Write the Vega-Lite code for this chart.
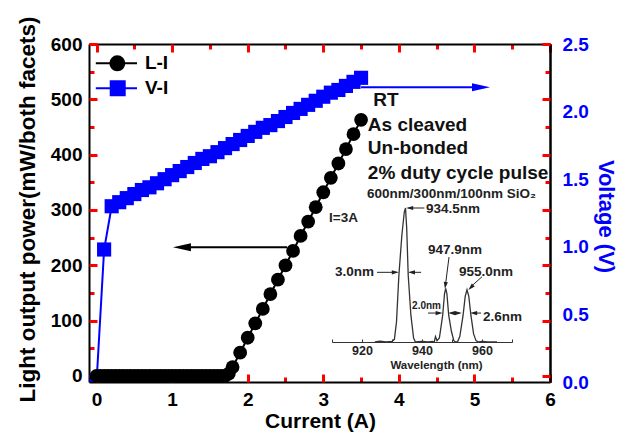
{
  "$schema": "https://vega.github.io/schema/vega-lite/v6.json",
  "width": 461,
  "height": 338,
  "autosize": {"type": "none"},
  "padding": {"left": 89, "top": 44, "right": 79, "bottom": 53},
  "background": "white",
  "config": {
    "view": {"stroke": null},
    "axis": {
      "grid": false,
      "domainColor": "black",
      "domainWidth": 2,
      "tickColor": "red",
      "tickWidth": 3,
      "labelFont": "Liberation Sans",
      "labelFontWeight": "bold",
      "labelFontSize": 19,
      "labelColor": "black",
      "labelFlush": false,
      "labelOverlap": false,
      "titleFont": "Liberation Sans",
      "titleFontWeight": "bold",
      "titleColor": "black"
    },
    "text": {"font": "Liberation Sans", "fontWeight": "bold"}
  },
  "datasets": {
    "li": [
      {"I": 0, "P": 0}, {"I": 0.05, "P": 0}, {"I": 0.1, "P": 0}, {"I": 0.15, "P": 0}, {"I": 0.2, "P": 0},
      {"I": 0.25, "P": 0}, {"I": 0.3, "P": 0}, {"I": 0.35, "P": 0}, {"I": 0.4, "P": 0}, {"I": 0.45, "P": 0},
      {"I": 0.5, "P": 0}, {"I": 0.55, "P": 0}, {"I": 0.6, "P": 0}, {"I": 0.65, "P": 0}, {"I": 0.7, "P": 0},
      {"I": 0.75, "P": 0}, {"I": 0.8, "P": 0}, {"I": 0.85, "P": 0}, {"I": 0.9, "P": 0}, {"I": 0.95, "P": 0},
      {"I": 1.0, "P": 0}, {"I": 1.05, "P": 0}, {"I": 1.1, "P": 0}, {"I": 1.15, "P": 0}, {"I": 1.2, "P": 0},
      {"I": 1.25, "P": 0}, {"I": 1.3, "P": 0}, {"I": 1.35, "P": 0}, {"I": 1.4, "P": 0}, {"I": 1.45, "P": 0},
      {"I": 1.5, "P": 0}, {"I": 1.55, "P": 0}, {"I": 1.6, "P": 0}, {"I": 1.65, "P": 0}, {"I": 1.7, "P": 0},
      {"I": 1.75, "P": 4}, {"I": 1.8, "P": 16}, {"I": 1.9, "P": 42}, {"I": 2.0, "P": 69}, {"I": 2.1, "P": 95},
      {"I": 2.2, "P": 121}, {"I": 2.3, "P": 148}, {"I": 2.4, "P": 174}, {"I": 2.5, "P": 200}, {"I": 2.6, "P": 226},
      {"I": 2.7, "P": 253}, {"I": 2.8, "P": 279}, {"I": 2.9, "P": 305}, {"I": 3.0, "P": 332}, {"I": 3.1, "P": 358},
      {"I": 3.2, "P": 384}, {"I": 3.3, "P": 410}, {"I": 3.4, "P": 437}, {"I": 3.5, "P": 463}
    ],
    "vi": [
      {"I": 0, "V": 0}, {"I": 0.1, "V": 0.98}, {"I": 0.2, "V": 1.30}, {"I": 0.3, "V": 1.33}, {"I": 0.4, "V": 1.36},
      {"I": 0.5, "V": 1.39}, {"I": 0.6, "V": 1.42}, {"I": 0.7, "V": 1.44}, {"I": 0.8, "V": 1.47}, {"I": 0.9, "V": 1.50},
      {"I": 1.0, "V": 1.53}, {"I": 1.1, "V": 1.56}, {"I": 1.2, "V": 1.59}, {"I": 1.3, "V": 1.62}, {"I": 1.4, "V": 1.65},
      {"I": 1.5, "V": 1.67}, {"I": 1.6, "V": 1.70}, {"I": 1.7, "V": 1.73}, {"I": 1.8, "V": 1.76}, {"I": 1.9, "V": 1.79},
      {"I": 2.0, "V": 1.82}, {"I": 2.1, "V": 1.85}, {"I": 2.2, "V": 1.88}, {"I": 2.3, "V": 1.90}, {"I": 2.4, "V": 1.93},
      {"I": 2.5, "V": 1.96}, {"I": 2.6, "V": 1.99}, {"I": 2.7, "V": 2.02}, {"I": 2.8, "V": 2.05}, {"I": 2.9, "V": 2.08},
      {"I": 3.0, "V": 2.11}, {"I": 3.1, "V": 2.14}, {"I": 3.2, "V": 2.16}, {"I": 3.3, "V": 2.19}, {"I": 3.4, "V": 2.22},
      {"I": 3.5, "V": 2.25}
    ],
    "spec": [
      {"wl": 924.3, "int": 0.0}, {"wl": 926, "int": 0.006}, {"wl": 928, "int": 0.0}, {"wl": 930, "int": 0.005},
      {"wl": 930.8, "int": 0.02}, {"wl": 931.5, "int": 0.15}, {"wl": 932.3, "int": 0.5}, {"wl": 933.3, "int": 0.8},
      {"wl": 934.1, "int": 0.97}, {"wl": 934.5, "int": 1.0}, {"wl": 934.9, "int": 0.85}, {"wl": 935.4, "int": 0.5},
      {"wl": 936.3, "int": 0.2}, {"wl": 937.2, "int": 0.03}, {"wl": 937.8, "int": 0.0}, {"wl": 940, "int": 0.005},
      {"wl": 942, "int": 0.0}, {"wl": 943.5, "int": 0.005}, {"wl": 944.1, "int": 0.0}, {"wl": 944.5, "int": 0.04},
      {"wl": 945, "int": 0.01}, {"wl": 945.8, "int": 0.03}, {"wl": 946.9, "int": 0.2}, {"wl": 947.5, "int": 0.36},
      {"wl": 947.9, "int": 0.40}, {"wl": 948.3, "int": 0.36}, {"wl": 948.9, "int": 0.2}, {"wl": 949.8, "int": 0.08},
      {"wl": 950.6, "int": 0.01}, {"wl": 951.2, "int": 0.0}, {"wl": 951.8, "int": 0.0}, {"wl": 952.6, "int": 0.04},
      {"wl": 953.7, "int": 0.2}, {"wl": 954.4, "int": 0.34}, {"wl": 955.0, "int": 0.39}, {"wl": 955.6, "int": 0.34},
      {"wl": 956.3, "int": 0.2}, {"wl": 957.2, "int": 0.06}, {"wl": 958, "int": 0.01}, {"wl": 958.8, "int": 0.0},
      {"wl": 960, "int": 0.005}, {"wl": 962, "int": 0.0}, {"wl": 965, "int": 0.0}
    ]
  },
  "layer": [
    {
      "data": {"name": "spec"},
      "mark": {"type": "line", "color": "#333", "strokeWidth": 1.3},
      "encoding": {
        "x": {"field": "wl", "type": "quantitative",
          "scale": {"domain": [910, 970], "range": [243, 423], "nice": false, "zero": false},
          "axis": {"orient": "bottom", "offset": -40, "values": [910, 920, 930, 940, 950, 960, 970],
            "labelExpr": "datum.value % 20 === 0 ? datum.label : ''",
            "tickSize": -3, "tickWidth": 1, "tickColor": "#333", "domainColor": "#333", "domainWidth": 1.2,
            "labelFontSize": 12.5, "labelPadding": 5, "labelColor": "#222",
            "title": "Wavelength (nm)", "titleFontSize": 11.5, "titleColor": "#222",
            "titleX": 347, "titleY": 26, "titleBaseline": "alphabetic", "titleAlign": "center"}},
        "y": {"field": "int", "type": "quantitative",
          "scale": {"domain": [0, 1], "range": [298, 164], "nice": false, "zero": false},
          "axis": null}
      }
    },
    {
      "encoding": {
        "x": {"field": "wl", "type": "quantitative",
          "scale": {"domain": [910, 970], "range": [243, 423], "nice": false, "zero": false}, "axis": null},
        "y": {"field": "int", "type": "quantitative",
          "scale": {"domain": [0, 1], "range": [298, 164], "nice": false, "zero": false}, "axis": null}
      },
      "layer": [
        {"data": {"values": [
          {"wl": 921.7, "int": 1.105, "label": "600nm/300nm/100nm SiO₂"},
          {"wl": 941.3, "int": 0.995, "label": "934.5nm"},
          {"wl": 909, "int": 0.925, "label": "I=3A"},
          {"wl": 911, "int": 0.52, "label": "3.0nm"},
          {"wl": 942, "int": 0.687, "label": "947.9nm"},
          {"wl": 952.3, "int": 0.52, "label": "955.0nm"},
          {"wl": 960.3, "int": 0.19, "label": "2.6nm"}
        ]}, "mark": {"type": "text", "align": "left", "baseline": "middle", "fontSize": 13.5, "color": "#222"},
          "encoding": {"text": {"field": "label"}}},
        {"data": {"values": [{"wl": 936.7, "int": 0.27, "label": "2.0nm"}]},
          "mark": {"type": "text", "align": "left", "baseline": "middle", "fontSize": 10, "color": "#222"},
          "encoding": {"text": {"field": "label"}}},
        {"data": {"values": [
          {"wl": 935.5, "int": 1.0, "wl2": 940.8, "int2": 1.0},
          {"wl": 925, "int": 0.52, "wl2": 931.5, "int2": 0.52},
          {"wl": 936.5, "int": 0.52, "wl2": 939.7, "int2": 0.52},
          {"wl": 942, "int": 0.216, "wl2": 946, "int2": 0.216},
          {"wl": 949.5, "int": 0.216, "wl2": 951, "int2": 0.216},
          {"wl": 951.3, "int": 0.216, "wl2": 952.5, "int2": 0.216},
          {"wl": 957, "int": 0.216, "wl2": 959.7, "int2": 0.216},
          {"wl": 949, "int": 0.634, "wl2": 947.85, "int2": 0.43},
          {"wl": 960, "int": 0.487, "wl2": 956.4, "int2": 0.415}
        ]}, "mark": {"type": "rule", "color": "#222", "strokeWidth": 1},
          "encoding": {"x2": {"field": "wl2"}, "y2": {"field": "int2"}}},
        {"data": {"values": [{"wl": 935.9, "int": 1.0}, {"wl": 936.5, "int": 0.52}, {"wl": 949.9, "int": 0.216}, {"wl": 957.2, "int": 0.216}]},
          "mark": {"type": "point", "shape": "M-1,0L1,-0.6L1,0.6Z", "size": 49, "filled": true, "opacity": 1, "color": "#222"}},
        {"data": {"values": [{"wl": 931.1, "int": 0.52}, {"wl": 945.7, "int": 0.216}, {"wl": 952.1, "int": 0.216}]},
          "mark": {"type": "point", "shape": "M1,0L-1,-0.6L-1,0.6Z", "size": 49, "filled": true, "opacity": 1, "color": "#222"}},
        {"data": {"values": [{"wl": 947.8, "int": 0.422}]},
          "mark": {"type": "point", "shape": "M0,1L-0.6,-1L0.6,-1Z", "size": 49, "angle": 7, "filled": true, "opacity": 1, "color": "#222"}},
        {"data": {"values": [{"wl": 956.27, "int": 0.407}]},
          "mark": {"type": "point", "shape": "M0,1L-0.6,-1L0.6,-1Z", "size": 49, "angle": 45, "filled": true, "opacity": 1, "color": "#222"}}
      ]
    },
    {
      "data": {"name": "vi"},
      "mark": {"type": "line", "color": "#0000ff", "strokeWidth": 2},
      "encoding": {
        "x": {"field": "I", "type": "quantitative",
          "scale": {"domain": [-0.1, 6], "nice": false, "zero": false},
          "axis": {"orient": "top", "values": [0, 0.5, 1, 1.5, 2, 2.5, 3, 3.5, 4, 4.5, 5, 5.5, 6], "labels": false,
            "tickSize": -5, "title": null}},
        "y": {"field": "V", "type": "quantitative",
          "scale": {"domain": [0, 2.5], "nice": false, "zero": false},
          "axis": {"orient": "right", "values": [0, 0.5, 1, 1.5, 2, 2.5], "format": ".1f", "ticks": false,
            "labelColor": "#0000ff", "labelPadding": 12,
            "title": "Voltage (V)", "titleColor": "#0000ff", "titleFontSize": 22, "titleAngle": 90,
            "titleX": 48, "titleY": 172, "titleBaseline": "alphabetic", "titleAlign": "center"}}
      }
    },
    {
      "encoding": {
        "x": {"field": "I", "type": "quantitative",
          "scale": {"domain": [-0.1, 6], "nice": false, "zero": false}, "axis": null},
        "y": {"field": "V", "type": "quantitative",
          "scale": {"domain": [0, 2.5], "nice": false, "zero": false}, "axis": null}
      },
      "layer": [
        {"data": {"name": "vi"}, "mark": {"type": "point", "shape": "square", "size": 200, "filled": true, "opacity": 1, "color": "#0000ff", "clip": true}},
        {"data": {"values": [{"I": 3.5, "I2": 5.0, "V": 2.18}]}, "mark": {"type": "rule", "color": "#0000ff", "strokeWidth": 2},
          "encoding": {"x2": {"field": "I2"}}},
        {"data": {"values": [{"I": 5.087, "V": 2.18}]},
          "mark": {"type": "point", "shape": "M1,0L-1,-0.45L-1,0.45Z", "size": 324, "filled": true, "opacity": 1, "color": "#0000ff"}}
      ]
    },
    {
      "data": {"name": "li"},
      "mark": {"type": "line", "color": "black", "strokeWidth": 2},
      "encoding": {
        "x": {"field": "I", "type": "quantitative",
          "scale": {"domain": [-0.1, 6], "nice": false, "zero": false},
          "axis": {"orient": "bottom", "values": [0, 0.5, 1, 1.5, 2, 2.5, 3, 3.5, 4, 4.5, 5, 5.5, 6],
            "format": "~g",
            "labelExpr": "datum.value % 1 === 0 ? datum.label : ''",
            "tickSize": -5,
            "labelPadding": 13,
            "title": "Current (A)", "titleFontSize": 21, "titleX": 231, "titleY": 45,
            "titleBaseline": "alphabetic", "titleAlign": "center"}},
        "y": {"field": "P", "type": "quantitative",
          "scale": {"domain": [-11, 600], "nice": false, "zero": false},
          "axis": {"orient": "left", "values": [0, 50, 100, 150, 200, 250, 300, 350, 400, 450, 500, 550, 600],
            "labelExpr": "datum.value % 100 === 0 ? datum.label : ''",
            "tickSize": -5,
            "labelPadding": 12,
            "title": "Light output power(mW/both facets)", "titleFontSize": 22.5, "titleAngle": -90,
            "titleX": -55, "titleY": 165, "titleBaseline": "alphabetic", "titleAlign": "center"}}
      }
    },
    {
      "encoding": {
        "x": {"field": "I", "type": "quantitative",
          "scale": {"domain": [-0.1, 6], "nice": false, "zero": false}, "axis": null},
        "y": {"field": "P", "type": "quantitative",
          "scale": {"domain": [-11, 600], "nice": false, "zero": false}, "axis": null}
      },
      "layer": [
        {"data": {"name": "li"}, "mark": {"type": "point", "shape": "circle", "size": 190, "filled": true, "opacity": 1, "color": "black"}},
        {"data": {"values": [
          {"I": 3.66, "P": 499, "label": "RT"},
          {"I": 3.59, "P": 453.5, "label": "As cleaved"},
          {"I": 3.59, "P": 412, "label": "Un-bonded"},
          {"I": 3.59, "P": 366, "label": "2% duty cycle pulse"}
        ]}, "mark": {"type": "text", "align": "left", "baseline": "middle", "fontSize": 19, "color": "#111"},
          "encoding": {"text": {"field": "label"}}},
        {"data": {"values": [{"I": 1.13, "P": 232.5}]},
          "mark": {"type": "point", "shape": "M-1,0L1,-0.45L1,0.45Z", "size": 324, "filled": true, "opacity": 1, "color": "black"}},
        {"data": {"values": [{"I": 0.275, "P": 565}]},
          "mark": {"type": "point", "shape": "circle", "size": 256, "filled": true, "opacity": 1, "color": "black"}},
        {"data": {"values": [{"I": 0.64, "P": 565, "label": "L-I"}]},
          "mark": {"type": "text", "align": "left", "baseline": "middle", "fontSize": 19, "color": "black"},
          "encoding": {"text": {"field": "label"}}},
        {"data": {"values": [{"I": 0.28, "P": 520}]},
          "mark": {"type": "point", "shape": "square", "size": 256, "filled": true, "opacity": 1, "color": "#0000ff"}},
        {"data": {"values": [{"I": 0.64, "P": 520, "label": "V-I"}]},
          "mark": {"type": "text", "align": "left", "baseline": "middle", "fontSize": 19, "color": "black"},
          "encoding": {"text": {"field": "label"}}}
      ]
    },
    {
      "data": {"values": [{"I": 1.2, "I2": 2.52, "P": 232.5}]},
      "mark": {"type": "rule", "color": "black", "strokeWidth": 2},
      "encoding": {
        "x": {"field": "I", "type": "quantitative",
          "scale": {"domain": [-0.1, 6], "nice": false, "zero": false},
          "axis": {"orient": "bottom", "values": [0, 1, 2, 3, 4, 5, 6], "labels": false, "domain": false,
            "tickSize": -8, "title": null}},
        "x2": {"field": "I2"},
        "y": {"field": "P", "type": "quantitative",
          "scale": {"domain": [-11, 600], "nice": false, "zero": false},
          "axis": {"orient": "right", "values": [0, 50, 100, 150, 200, 250, 300, 350, 400, 450, 500, 550, 600],
            "labels": false, "title": null, "tickSize": -5}}
      }
    },
    {
      "data": {"values": [{"I": -0.01, "I2": 0.535, "P": 565}]},
      "mark": {"type": "rule", "color": "black", "strokeWidth": 2},
      "encoding": {
        "x": {"field": "I", "type": "quantitative",
          "scale": {"domain": [-0.1, 6], "nice": false, "zero": false},
          "axis": {"orient": "top", "values": [0, 1, 2, 3, 4, 5, 6], "labels": false, "domain": false,
            "tickSize": -8, "title": null}},
        "x2": {"field": "I2"},
        "y": {"field": "P", "type": "quantitative",
          "scale": {"domain": [-11, 600], "nice": false, "zero": false},
          "axis": {"orient": "left", "values": [0, 100, 200, 300, 400, 500, 600], "labels": false, "domain": false,
            "tickSize": -8, "title": null}}
      }
    },
    {
      "data": {"values": [{"I": -0.01, "I2": 0.535, "P": 520}]},
      "mark": {"type": "rule", "color": "#0000ff", "strokeWidth": 2},
      "encoding": {
        "x": {"field": "I", "type": "quantitative",
          "scale": {"domain": [-0.1, 6], "nice": false, "zero": false}, "axis": null},
        "x2": {"field": "I2"},
        "y": {"field": "P", "type": "quantitative",
          "scale": {"domain": [-11, 600], "nice": false, "zero": false},
          "axis": {"orient": "right", "values": [0, 100, 200, 300, 400, 500, 600], "labels": false, "domain": false,
            "tickSize": -8, "title": null}}
      }
    }
  ],
  "resolve": {"scale": {"x": "independent", "y": "independent"}, "axis": {"x": "independent", "y": "independent"}}
}
